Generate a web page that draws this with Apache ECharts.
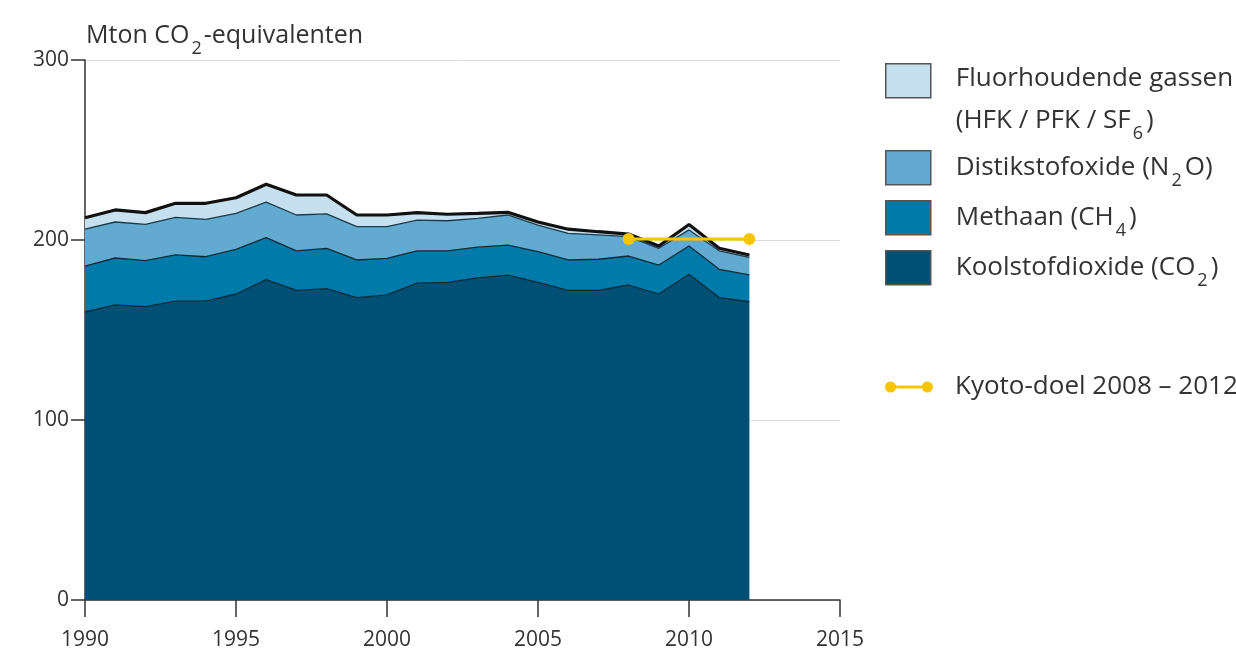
<!DOCTYPE html>
<html>
<head>
    <meta charset="utf-8">
    <title>Broeikasgasemissies</title>
    <script src="https://cdn.jsdelivr.net/npm/echarts@6/dist/echarts.min.js"></script>
    <style>
        html, body { margin: 0; padding: 0; background: #fff; }
        #chart1 { width: 1236px; height: 657px; }
    </style>
</head>
<body>
<div id="chart1"></div>
<script>
    // jaren en emissies (Mton CO2-equivalenten)
    var axisYears = ['1990', '1991', '1992', '1993', '1994', '1995', '1996', '1997', '1998',
        '1999', '2000', '2001', '2002', '2003', '2004', '2005', '2006', '2007', '2008',
        '2009', '2010', '2011', '2012', '2013', '2014', '2015'];
    var co2 = [160, 164, 163, 166, 166, 170, 178, 172, 173, 168, 169.5,
        176, 176.5, 179, 180.5, 176.5, 172, 172, 175, 170, 181, 168, 165.7];
    var ch4 = [25.5, 26, 25.5, 25.7, 24.7, 24.8, 23.3, 22, 22.4, 20.9, 20.3,
        18, 17.5, 17, 16.7, 17, 16.9, 17.3, 16.1, 16.1, 15.7, 15.7, 14.9];
    var n2o = [20.5, 20, 20.2, 20.9, 20.8, 20, 19.7, 19.9, 19.1, 18.5, 17.6,
        17, 16.7, 16, 16.7, 14.8, 14.8, 13.5, 10.8, 9.3, 8.9, 10.3, 9.8];
    var fgas = [6.4, 6.7, 6.5, 7.8, 8.9, 8.7, 10, 11.1, 10.5, 6.5, 6.5,
        4.2, 3.6, 2.8, 1.5, 1.7, 2.3, 1.8, 1.4, 1.3, 3, 1.4, 1.3];
    var kyotoYears = ['2008', '2012'];
    var kyotoValue = 200.5;
    var yTicks = [0, 300, 100];

    var font = 'Open Sans';
    var names = {
        fgas: 'Fluorhoudende gassen',
        n2o: 'Distikstofoxide',
        ch4: 'Methaan',
        co2: 'Koolstofdioxide',
        kyoto: 'Kyoto-doel'
    };

    function areaSeries(name, vals, color, lineColor, lineWidth) {
        return {
            name: name,
            type: 'line',
            stack: 'totaal',
            symbol: 'none',
            color: color,
            itemStyle: { color: color },
            lineStyle: { color: lineColor, width: lineWidth },
            areaStyle: { color: color, opacity: 1 },
            data: vals
        };
    }

    var subRich = {
        t: { fontFamily: font, fontSize: 26, color: '#333', lineHeight: 40 },
        s: { fontFamily: font, fontSize: 18, color: '#333', padding: [26, 3, 0, 2] }
    };

    function legendFor(name, top, icon, w, h, textPad, border) {
        return {
            data: [name],
            left: 885,
            top: top,
            orient: 'vertical',
            padding: 0,
            icon: icon,
            itemWidth: w,
            itemHeight: h,
            selectedMode: false,
            itemStyle: border ? { borderColor: '#555', borderWidth: 1.5 } : { borderWidth: 0 },
            textStyle: { padding: textPad, rich: subRich },
            formatter: function (n) {
                if (n === names.fgas) return '{t|Fluorhoudende gassen}\n{t|(HFK / PFK / SF}{s|6}{t|)}';
                if (n === names.n2o) return '{t|Distikstofoxide (N}{s|2}{t|O)}';
                if (n === names.ch4) return '{t|Methaan (CH}{s|4}{t|)}';
                if (n === names.co2) return '{t|Koolstofdioxide (CO}{s|2}{t|)}';
                return '{t|Kyoto-doel 2008 – 2012}';
            }
        };
    }

    var kyotoIcon = 'path://M0.5,6 A5.5,5.5 0 1,0 11.5,6 A5.5,5.5 0 1,0 0.5,6 Z ' +
        'M11.5,4.6 L36.5,4.6 L36.5,7.4 L11.5,7.4 Z ' +
        'M36.5,6 A5.5,5.5 0 1,0 47.5,6 A5.5,5.5 0 1,0 36.5,6 Z';

    var myChart1 = echarts.init(document.getElementById('chart1'));
    myChart1.setOption({
        animation: false,
        textStyle: { fontFamily: font },
        title: {
            text: '{a|Mton CO}{b|2}{a|-equivalenten}',
            left: 86,
            top: 14,
            padding: 0,
            textStyle: {
                rich: {
                    a: { fontFamily: font, fontSize: 25, fontWeight: 'normal', color: '#333' },
                    b: { fontFamily: font, fontSize: 18, fontWeight: 'normal', color: '#333', padding: [26, 2, 0, 2] }
                }
            }
        },
        legend: [
            legendFor(names.fgas, 63, 'rect', 45, 34, [40, 0, 0, 20], true),
            legendFor(names.n2o, 150, 'rect', 45, 34, [0, 0, 0, 20], true),
            legendFor(names.ch4, 200, 'rect', 45, 34, [0, 0, 0, 20], true),
            legendFor(names.co2, 250, 'rect', 45, 34, [0, 0, 0, 20], true),
            legendFor(names.kyoto, 374, kyotoIcon, 48, 12, [0, 0, 0, 17], false)
        ],
        grid: { left: 85, right: 396, top: 60, bottom: 57 },
        xAxis: {
            type: 'category',
            data: axisYears,
            boundaryGap: false,
            axisLine: { lineStyle: { color: '#333', width: 1.5 } },
            axisTick: { show: true, interval: 4, length: 17, lineStyle: { color: '#333', width: 1.5 } },
            axisLabel: { interval: 4, fontFamily: font, fontSize: 21, color: '#333', margin: 30 },
            splitLine: { show: false }
        },
        yAxis: {
            type: 'value',
            min: yTicks[0],
            max: yTicks[1],
            interval: yTicks[2],
            axisLine: { show: true, lineStyle: { color: '#333', width: 1.5 } },
            axisTick: { show: true, length: 14, lineStyle: { color: '#333', width: 1.5 } },
            axisLabel: { fontFamily: font, fontSize: 21, color: '#333', margin: 16 },
            splitLine: { lineStyle: { color: '#dcdcdc', width: 1 } }
        },
        series: [
            areaSeries(names.co2, co2, '#004f74', '#0d2a3a', 1.3),
            areaSeries(names.ch4, ch4, '#007aa9', '#0d2a3a', 1.3),
            areaSeries(names.n2o, n2o, '#62aacf', '#1b3a4a', 1.3),
            areaSeries(names.fgas, fgas, '#c7e0f0', '#111', 3.2),
            {
                name: names.kyoto,
                type: 'line',
                color: '#f6c500',
                symbol: 'circle',
                symbolSize: 12,
                itemStyle: { color: '#f6c500' },
                lineStyle: { color: '#f6c500', width: 3 },
                z: 5,
                data: kyotoYears.map(function (y) { return [y, kyotoValue]; })
            }
        ]
    });
</script>
</body>
</html>
